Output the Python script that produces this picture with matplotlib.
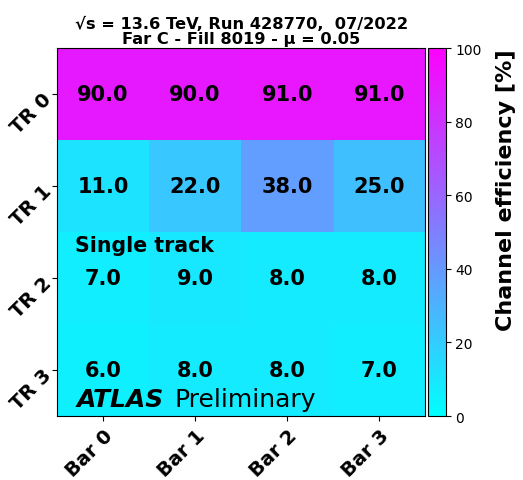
import numpy as np
import matplotlib
matplotlib.use("Agg")
import matplotlib.pyplot as plt

bars = ["Bar 0", "Bar 1", "Bar 2", "Bar 3"]
trains = ["TR 0", "TR 1", "TR 2", "TR 3"]
tr0 = [90.0, 90.0, 91.0, 91.0]
tr1 = [11.0, 22.0, 38.0, 25.0]
tr2 = [7.0, 9.0, 8.0, 8.0]
tr3 = [6.0, 8.0, 8.0, 7.0]
values = np.array([tr0, tr1, tr2, tr3])

fig = plt.figure(figsize=(5.23, 4.81), dpi=100)
ax = fig.add_axes([0.109, 0.133, 0.704, 0.765])
cax = fig.add_axes([0.818, 0.133, 0.034, 0.765])

im = ax.imshow(values, cmap="cool", vmin=0, vmax=100, aspect="auto")
for i in range(values.shape[0]):
    for j in range(values.shape[1]):
        ax.text(j, i, f"{values[i, j]:.1f}", ha="center", va="center",
                fontsize=15, fontweight="heavy", color="black")

ax.set_xticks(range(len(bars)))
ax.set_xticklabels(bars, rotation=45, ha="right", rotation_mode="anchor",
                   fontsize=14, fontweight="bold")
ax.set_yticks(range(len(trains)))
ax.set_yticklabels(trains, rotation=45, ha="right", rotation_mode="anchor",
                   fontsize=14, fontweight="bold")

ax.set_title("√s = 13.6 TeV, Run 428770,  07/2022\nFar C - Fill 8019 - μ = 0.05",
             fontsize=11.7, fontweight="bold", pad=4, linespacing=0.95)

ax.text(0.05, 0.448, "Single track", transform=ax.transAxes, fontsize=14.8,
        fontweight="bold", ha="left", va="baseline")
ax.text(0.054, 0.027, "ATLAS", transform=ax.transAxes, fontsize=18,
        fontweight="bold", fontstyle="italic", ha="left", va="baseline")
ax.text(0.318, 0.027, "Preliminary", transform=ax.transAxes, fontsize=18,
        ha="left", va="baseline")

cb = fig.colorbar(im, cax=cax)
cb.set_ticks([0, 20, 40, 60, 80, 100])
cb.ax.tick_params(labelsize=10)
cb.set_label("Channel efficiency [%]", fontsize=16, fontweight="bold",
             labelpad=10, loc="top")

fig.savefig("out.png", dpi=100)
